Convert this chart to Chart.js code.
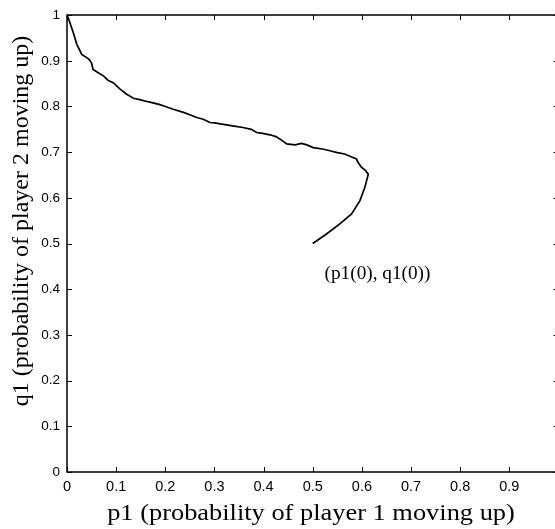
<!DOCTYPE html>
<html>
<head>
<meta charset="utf-8">
<script src="https://cdn.jsdelivr.net/npm/chart.js@4.4.1/dist/chart.umd.min.js"></script>
<style>
  html, body { margin: 0; padding: 0; background: #fff; overflow: hidden; }
  #wrap { position: relative; width: 560px; height: 529px; }
</style>
</head>
<body>
<div id="wrap"><canvas id="traj"></canvas></div>
<script>
// Learning trajectory (starts at (0.5, 0.5)).
const p1Values = [
  0.500, 0.528, 0.555, 0.579, 0.596, 0.606, 0.613, 0.607, 0.599, 0.592,
  0.589, 0.578, 0.565, 0.550, 0.535, 0.520, 0.501, 0.488, 0.477, 0.464,
  0.447, 0.433, 0.425, 0.413, 0.398, 0.386, 0.375, 0.358, 0.340, 0.318,
  0.300, 0.291, 0.277, 0.264, 0.250, 0.237, 0.216, 0.200, 0.189, 0.175,
  0.162, 0.148, 0.135, 0.120, 0.108, 0.094, 0.084, 0.074, 0.062, 0.053,
  0.050, 0.045, 0.040, 0.030, 0.020, 0.013, 0.006, 0.003, 0.001, 0.000
];
const q1Values = [
  0.500, 0.521, 0.543, 0.565, 0.594, 0.623, 0.652, 0.660, 0.667, 0.678,
  0.685, 0.690, 0.696, 0.699, 0.703, 0.707, 0.710, 0.716, 0.719, 0.716,
  0.718, 0.729, 0.734, 0.738, 0.741, 0.743, 0.750, 0.754, 0.757, 0.761,
  0.764, 0.765, 0.772, 0.776, 0.782, 0.787, 0.794, 0.800, 0.804, 0.808,
  0.811, 0.815, 0.818, 0.828, 0.838, 0.852, 0.857, 0.867, 0.875, 0.881,
  0.895, 0.903, 0.907, 0.914, 0.936, 0.961, 0.983, 0.992, 0.998, 1.000
];

const xTickValues = [0, 0.1, 0.2, 0.3, 0.4, 0.5, 0.6, 0.7, 0.8, 0.9];
const yTickValues = [0, 0.1, 0.2, 0.3, 0.4, 0.5, 0.6, 0.7, 0.8, 0.9, 1];

const xTitle = "p1 (probability of player 1 moving up)";
const yTitle = "q1 (probability of player 2 moving up)";
const startLabel = "(p1(0), q1(0))";
const startLabelAt = { x: 0.524, y: 0.432 };

const SERIF = "'Liberation Serif', 'Times New Roman', serif";
const SANS  = "'Liberation Sans', Arial, sans-serif";

const fmtTick = v => String(Number(v.toFixed(1)));

// the source image is a bit wider than tall, so horizontal text is stretched
function stretchedText(ctx, text, x, y, font, sx, align) {
  ctx.save();
  ctx.translate(x, y);
  ctx.scale(sx, 1);
  ctx.font = font;
  ctx.textAlign = align;
  ctx.textBaseline = "middle";
  ctx.fillText(text, 0, 0);
  ctx.restore();
}

// MATLAB-style box: frame, inward ticks on all four sides, titles, label
const framePlugin = {
  id: "frame",
  afterDatasetsDraw(chart) {
    const { ctx, chartArea: a, scales: { x, y } } = chart;
    ctx.save();
    ctx.strokeStyle = "#000";
    ctx.fillStyle = "#000";
    ctx.lineWidth = 1.5;
    ctx.beginPath();
    ctx.rect(a.left, a.top, a.right - a.left, a.bottom - a.top);
    ctx.stroke();

    ctx.lineWidth = 1;
    ctx.beginPath();
    xTickValues.forEach(v => {
      const px = Math.round(x.getPixelForValue(v)) + 0.5;
      ctx.moveTo(px, a.bottom); ctx.lineTo(px, a.bottom - 5);
      ctx.moveTo(px, a.top);    ctx.lineTo(px, a.top + 5);
    });
    yTickValues.forEach(v => {
      const py = Math.round(y.getPixelForValue(v)) + 0.5;
      ctx.moveTo(a.left, py);  ctx.lineTo(a.left + 5, py);
      ctx.moveTo(a.right, py); ctx.lineTo(a.right - 5, py);
    });
    ctx.stroke();

    stretchedText(ctx, startLabel, x.getPixelForValue(startLabelAt.x), y.getPixelForValue(startLabelAt.y),
      "18px " + SERIF, 1.07, "left");

    // axis titles
    stretchedText(ctx, xTitle, 311, 514, "24px " + SERIF, 1.1, "center");
    ctx.save();
    ctx.translate(22, 221);
    ctx.rotate(-Math.PI / 2);
    ctx.font = "24px " + SERIF;
    ctx.textAlign = "center";
    ctx.textBaseline = "middle";
    ctx.fillText(yTitle, 0, 0);
    ctx.restore();
    ctx.restore();
  }
};

new Chart(document.getElementById("traj"), {
  type: "scatter",
  data: {
    datasets: [{
      data: p1Values.map((p, i) => ({ x: p, y: q1Values[i] })),
      showLine: true,
      borderColor: "#000",
      borderWidth: 1.7,
      pointRadius: 0,
      tension: 0,
      fill: false,
    }],
  },
  options: {
    responsive: true,
    maintainAspectRatio: false,
    animation: false,
    layout: { padding: { top: 14, right: 1.5, left: 0, bottom: 0 } },
    plugins: { legend: { display: false }, tooltip: { enabled: false } },
    scales: {
      x: {
        type: "linear",
        min: 0,
        max: 1,
        afterBuildTicks: s => { s.ticks = xTickValues.map(v => ({ value: v })); },
        afterFit: s => { s.height = 57; },
        ticks: { font: { family: SANS, size: 14.5 }, color: "#000", padding: 6, maxRotation: 0, autoSkip: false, callback: fmtTick },
        grid: { display: false, drawTicks: false },
        border: { display: false },
      },
      y: {
        type: "linear",
        min: 0,
        max: 1,
        afterBuildTicks: s => { s.ticks = yTickValues.map(v => ({ value: v })); },
        afterFit: s => { s.width = 67; },
        ticks: { font: { family: SANS, size: 13.5 }, color: "#000", padding: 7, autoSkip: false, callback: fmtTick },
        grid: { display: false, drawTicks: false },
        border: { display: false },
      },
    },
  },
  plugins: [framePlugin],
});
</script>
</body>
</html>
